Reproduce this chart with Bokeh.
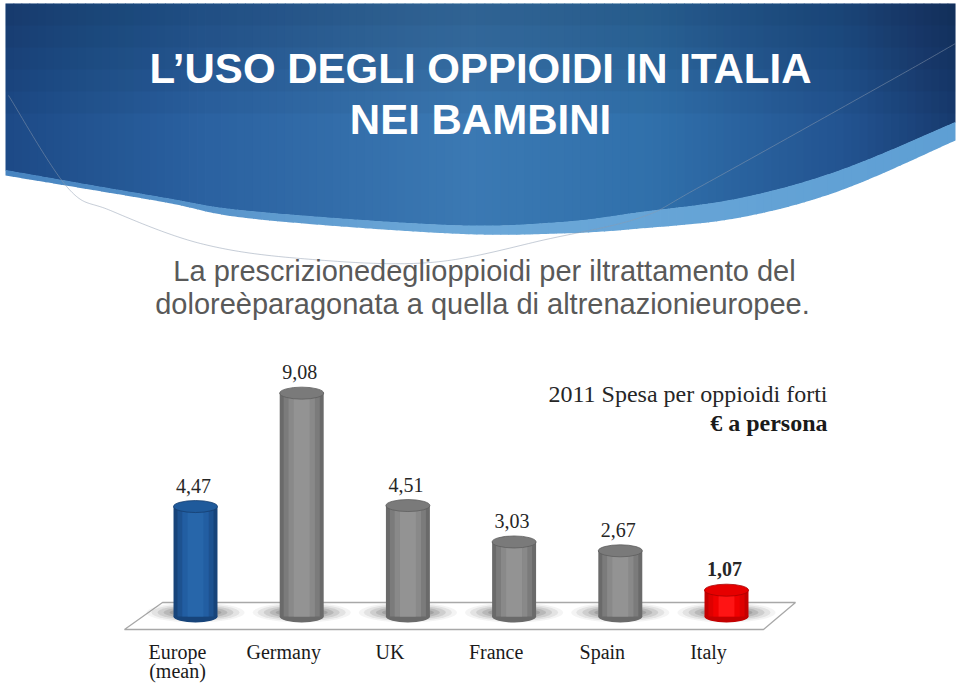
import numpy as np
from bokeh.plotting import figure
from bokeh.models import Range1d, FactorRange, ColumnDataSource
from bokeh.transform import dodge
from bokeh.core.properties import value
from bokeh.embed import file_html
from bokeh.resources import INLINE

# ---------------- data ----------------
title_lines = ["L’USO DEGLI OPPIOIDI IN ITALIA", "NEI BAMBINI"]
subtitle_lines = ["La prescrizionedeglioppioidi per iltrattamento del",
                  "doloreèparagonata a quella di altrenazionieuropee."]
chart_title = "2011 Spesa per oppioidi forti"
chart_unit = "€ a persona"
categories = ["Europe (mean)", "Germany", "UK", "France", "Spain", "Italy"]
tick_labels = ["Europe\n(mean)", "Germany", "UK", "France", "Spain", "Italy"]
spend_per_person = [4.47, 9.08, 4.51, 3.03, 2.67, 1.07]

# ---------------- styles ----------------
highlight = {"Europe (mean)": "blue", "Italy": "red"}
palettes = {
    "gray": dict(strips=["#6a6a6a", "#7b7b7b", "#898989", "#939393"], top="#7a7a7a", edge="#5e5e5e"),
    "blue": dict(strips=["#17447a", "#1d5290", "#225ea2", "#2766aa"], top="#1f5a9b", edge="#163f70"),
    "red": dict(strips=["#c40000", "#de0000", "#f00000", "#ff1414"], top="#e60000", edge="#a80000"),
}
strip_fracs = [1.0, 0.82, 0.6, 0.36]

W, H = 960, 683
UNIT = 106.2                                   # screen px per category
PX_PER_VALUE = 24.6                            # screen px per euro
PAD = (W / UNIT - len(categories)) / 2
BAR_DX = -0.1836
LAB_DX = -0.3531
BAR_W = 0.414

p = figure(width=W, height=H,
           x_range=FactorRange(factors=categories, range_padding=PAD,
                               range_padding_units="absolute", factor_padding=0),
           y_range=Range1d(-2.7236, 25.041),
           output_backend="svg", toolbar_location=None,
           x_axis_location=None, y_axis_location=None,
           min_border=0, outline_line_color=None,
           background_fill_color="white", border_fill_color="white")
p.grid.visible = False
p.extra_y_ranges = {"py": Range1d(H, 0)}
PX = dict(y_range_name="py")


def sx(x):
    """slide-layout x (pixels) -> synthetic categorical coordinate"""
    return np.asarray(x, float) / UNIT - PAD


def catmull(pts, n=30):
    pts = np.asarray(pts, float)
    P = np.vstack([pts[0], pts, pts[-1]])
    out = []
    t = np.linspace(0, 1, n, endpoint=False)[:, None]
    for i in range(1, len(P) - 2):
        p0, p1, p2, p3 = P[i - 1], P[i], P[i + 1], P[i + 2]
        out.append(0.5 * ((2 * p1) + (-p0 + p2) * t + (2 * p0 - 5 * p1 + 4 * p2 - p3) * t ** 2
                          + (-p0 + 3 * p1 - 3 * p2 + p3) * t ** 3))
    out.append(P[-2][None, :])
    return np.vstack(out)


def hex2rgb(h):
    h = h.lstrip("#")
    return np.array([int(h[i:i + 2], 16) for i in (0, 2, 4)], float)


def grad(x, stops):
    xs = [s[0] for s in stops]
    cols = np.array([hex2rgb(s[1]) for s in stops])
    r = [np.interp(x, xs, cols[:, k]) for k in range(3)]
    return "#%02x%02x%02x" % tuple(int(round(v)) for v in r)


# ---------------- header ----------------
dark_pts = [(5, 170), (160, 197), (250, 211), (450, 225), (560, 222), (640, 212),
            (740, 198), (840, 170), (955, 122)]
light_pts = [(5, 175), (160, 201), (250, 218), (450, 233), (560, 233), (640, 228),
             (740, 217), (840, 190), (955, 140)]
dark_c = catmull(dark_pts)
light_c = catmull(light_pts)


def dark_y(x):
    return np.interp(x, dark_c[:, 0], dark_c[:, 1])


def light_y(x):
    return np.interp(x, light_c[:, 0], light_c[:, 1])


body_stops = [(5, "#1d4a86"), (200, "#2a61a0"), (470, "#3b79b3"), (650, "#3070ab"),
              (850, "#22528f"), (955, "#173a6e")]
band_stops = [(5, "#4784c0"), (450, "#6ca8d8"), (955, "#5e9fd4")]
edges = np.linspace(5, 955, 120)
xs_body, ys_body, col_body = [], [], []
xs_band, ys_band, col_band = [], [], []
for a, b in zip(edges[:-1], edges[1:]):
    b2 = min(b + 0.8, 955)
    seg = np.linspace(a, b2, 4)
    xs_body.append(list(sx([a, b2] + list(seg[::-1]))))
    ys_body.append([3, 3] + list(dark_y(seg[::-1])))
    col_body.append(grad((a + b) / 2, body_stops))
    xs_band.append(list(sx(list(seg) + list(seg[::-1]))))
    ys_band.append(list(dark_y(seg) - 0.5) + list(light_y(seg[::-1])))
    col_band.append(grad((a + b) / 2, band_stops))
p.patches(xs_body, ys_body, fill_color=col_body, line_color=None, **PX)
p.patches(xs_band, ys_band, fill_color=col_band, line_color=None, **PX)
for k in range(1, 6):
    p.quad(left=list(sx([5])), right=list(sx([955])), top=[3], bottom=[3 + 22 * k],
           fill_color="black", fill_alpha=0.035, line_color=None, **PX)

arc_pts = [(8, 95), (67, 187), (110, 210), (200, 243), (300, 258), (430, 262),
           (550, 238), (640, 217), (700, 186), (890, 80), (955, 43)]
arc = catmull(arc_pts)
p.line(sx(arc[:, 0]), arc[:, 1], line_color="#8e9bb0", line_alpha=0.5, line_width=1, **PX)

# titles
p.text(x=sx([480, 480]), y=[67.5, 118.5], text=title_lines, text_align="center",
       text_baseline="middle", text_font=value("Liberation Sans"),
       text_font_style="bold", text_font_size="42px", text_color="white", **PX)
p.text(x=sx([484, 482]), y=[270, 303], text=subtitle_lines, text_align="center",
       text_baseline="middle", text_font=value("Liberation Sans"),
       text_font_size="29px", text_color="#595959", **PX)

# chart title / unit
p.text(x=sx([827]), y=[393.5], text=[chart_title], text_align="right", text_baseline="middle",
       text_font=value("Liberation Serif"), text_font_size="24px", text_color="#262626", **PX)
p.text(x=sx([827]), y=[422], text=[chart_unit], text_align="right", text_baseline="middle",
       text_font=value("Liberation Serif"), text_font_style="bold", text_font_size="24px",
       text_color="#1a1a1a", **PX)

# floor
p.patch(sx([162, 795, 763, 124]), [602, 602, 629, 629], fill_color="white",
        line_color="#a8a8a8", line_width=1.3, **PX)

# ---------------- bars ----------------
kinds = [highlight.get(c, "gray") for c in categories]
src = ColumnDataSource(dict(
    cat=categories,
    val=spend_per_person,
    vlabel=[("%.2f" % v).replace(".", ",") for v in spend_per_person],
    fstyle=["bold" if k == "red" else "normal" for k in kinds],
    line1=[t.split("\n")[0] for t in tick_labels],
    line2=[t.split("\n")[1] if "\n" in t else "" for t in tick_labels],
    top=[palettes[k]["top"] for k in kinds],
    edge=[palettes[k]["edge"] for k in kinds],
    **{"c%d" % i: [palettes[k]["strips"][i] for k in kinds] for i in range(4)}
))
xbar = dodge("cat", BAR_DX, range=p.x_range)
xlab = dodge("cat", LAB_DX, range=p.x_range)

# soft shadows on the floor
shadow_y = 4 / PX_PER_VALUE
for w, h, a in [(98, 20, 0.06), (88, 17, 0.09), (76, 14, 0.12), (64, 11, 0.15), (52, 8, 0.18)]:
    p.ellipse(x=xbar, y=shadow_y, width=w, height=h,
              width_units="screen", height_units="screen", fill_color="#3c3c3c",
              fill_alpha=a, line_color=None, source=src)

p.ellipse(x=xbar, y=0, width=BAR_W, height=12, height_units="screen",
          fill_color="c0", line_color=None, source=src)
for i, f in enumerate(strip_fracs):
    p.vbar(x=xbar, top="val", bottom=0, width=BAR_W * f, fill_color="c%d" % i,
           line_color=None, source=src)
p.ellipse(x=xbar, y="val", width=BAR_W, height=12, height_units="screen",
          fill_color="top", line_color="edge", line_width=0.8, source=src)

# value labels
p.text(x=xbar, y="val", text="vlabel", x_offset=-2, y_offset=-21, text_align="center",
       text_baseline="middle", text_font=value("Liberation Serif"), text_font_size="20px",
       text_font_style="fstyle", text_color="#262626", source=src)

# category labels (two rows: second row carries the wrapped part of a label)
p.text(x=xlab, y=0, text="line1", y_offset=35, text_align="center", text_baseline="middle",
       text_font=value("Liberation Serif"), text_font_size="20px", text_color="#1a1a1a", source=src)
p.text(x=xlab, y=0, text="line2", y_offset=54, text_align="center", text_baseline="middle",
       text_font=value("Liberation Serif"), text_font_size="20px", text_color="#1a1a1a", source=src)

open("out.html", "w").write(file_html(p, INLINE))
